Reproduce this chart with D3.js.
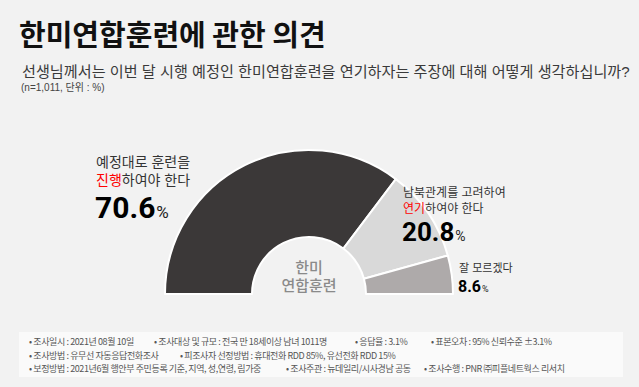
<!DOCTYPE html>
<html>
<head>
<meta charset="utf-8">
<script src="https://d3js.org/d3.v7.min.js"></script>
<style>
  body { margin: 0; background: #f2f2f2; }
  svg { display: block; font-family: "Noto Sans CJK KR", "Noto Sans", sans-serif; }
  .tight { font-family: "Liberation Sans", "Noto Sans CJK KR", sans-serif; }
  .num { font-family: Roboto, "Liberation Sans", sans-serif; }
</style>
</head>
<body>
<svg class="target" width="639" height="387"></svg>
<script>

// answer categories and shares (%)
categories = ['진행', '연기', '모름']
values = [70.6, 20.8, 8.6]
colors = ['#3b3838', '#d9d9d9', '#aeaaaa']

footerRows = [
  [['• 조사일시 : 2021년 08월 10일', 29], ['• 조사대상 및 규모 : 전국 만 18세이상  남녀  1011명', 154], ['• 응답율 :  3.1%', 355], ['• 표본오차 : 95% 신뢰수준 ±3.1%', 431]],
  [['• 조사방법 : 유무선 자동응답전화조사', 29], ['• 피조사자 선정방법 : 휴대전화 RDD  85%, 유선전화 RDD  15%', 180]],
  [['• 보정방법 : 2021년6월  행안부 주민등록 기준,  지역, 성,연령, 림가중', 29], ['• 조사주관 : 뉴데일리/시사경남 공동', 286], ['• 조사수행 : PNR ㈜피플네트웍스 리서치', 424]]
]

width = 639
height = 387

const svg = d3.select('.target')

svg.append('rect').attr('width', width).attr('height', height).attr('fill', '#f2f2f2')

// title
svg.append('text')
  .attr('x', 19).attr('y', 46)
  .style('font-size', '29px').style('font-weight', 700).attr('fill', '#111')
  .text('한미연합훈련에 관한 의견')

// subtitle, font size fitted to the width it has in the picture
const sub = svg.append('text').attr('class', 'tight')
  .attr('x', 22).attr('y', 77)
  .style('font-size', '15px').attr('fill', '#3a3a3a')
  .text('선생님께서는 이번 달 시행 예정인 한미연합훈련을 연기하자는 주장에 대해 어떻게 생각하십니까?')
const subW = sub.node().getComputedTextLength()
sub.style('font-size', (15 * 608 / subW).toFixed(2) + 'px')

svg.append('text').attr('class', 'tight')
  .attr('x', 21).attr('y', 91)
  .style('font-size', '10px').attr('fill', '#444')
  .text('(n=1,011, 단위 : %)')

// half donut
const cx = 309, cy = 294
const pie = d3.pie().sort(null).startAngle(-Math.PI / 2).endAngle(Math.PI / 2)
const arc = d3.arc().innerRadius(57).outerRadius(144)

const g = svg.append('g').attr('transform', `translate(${cx},${cy})`)
g.selectAll('path')
  .data(pie(values))
  .join('path')
    .attr('d', arc)
    .attr('fill', (d, i) => colors[i])
    .attr('stroke', '#fff')
    .attr('stroke-width', 2)
    .attr('stroke-linejoin', 'round')

g.append('text').attr('class', 'tight').attr('text-anchor', 'middle').attr('y', -21)
  .style('font-size', '15px').style('font-weight', 500).attr('fill', '#8a8a8a').text('한미')
g.append('text').attr('class', 'tight').attr('text-anchor', 'middle').attr('y', -3)
  .style('font-size', '15px').style('font-weight', 500).attr('fill', '#8a8a8a').text('연합훈련')

// labels: pieces placed one after another as separate texts
function piece(parent, x, y, txt, size, fill, weight, cls) {
  const t = parent.append('text').attr('class', cls || 'tight').attr('x', x).attr('y', y)
    .style('font-size', size + 'px').style('font-weight', weight || 400)
    .attr('fill', fill).text(txt)
  return x + t.node().getComputedTextLength()
}

function label(x, y, line1, red, rest, value, fs, vfs, gap1, gap2) {
  const t = svg.append('g')
  piece(t, x, y, line1, fs, '#333')
  if (red !== null) {
    const nx = piece(t, x, y + gap1, red, fs, '#ff0000')
    piece(t, nx, y + gap1, rest, fs, '#333')
  }
  const vx = piece(t, x - 1, y + gap2, value, vfs, '#000', 700, 'num')
  piece(t, vx + 1, y + gap2, '%', Math.round(vfs * 0.55), '#222', 400, 'num')
}

label(96, 167, '예정대로 훈련을', '진행', '하여야 한다', values[0].toFixed(1), 14, 30, 18, 51)
label(403, 197, '남북관계를 고려하여', '연기', '하여야 한다', values[1].toFixed(1), 12, 26, 16, 44)
label(459, 272, '잘 모르겠다', null, null, values[2].toFixed(1), 11, 16, 0, 20)

// footer
svg.append('rect').attr('x', 19).attr('y', 332).attr('width', 604).attr('height', 45).attr('fill', '#fafafa')

footerRows.forEach((row, r) => {
  row.forEach(([txt, x]) => {
    svg.append('text')
      .attr('x', x).attr('y', 345 + r * 13.5)
      .style('font-size', '9px').style('letter-spacing', '-0.4px')
      .attr('fill', '#555')
      .text(txt)
  })
})

</script>
</body>
</html>
